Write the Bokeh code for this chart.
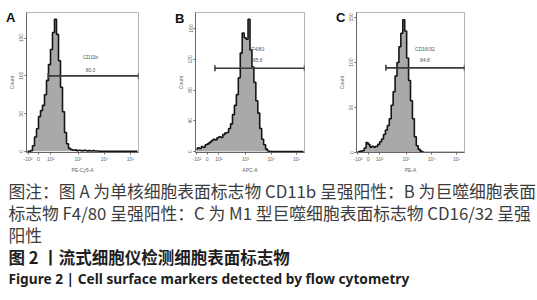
from bokeh.plotting import figure
from bokeh.models import Range1d, FixedTicker, Label, LinearAxis
from bokeh.layouts import column, row
from bokeh.embed import file_html
from bokeh.resources import INLINE
from bokeh.core.properties import value

# ---------------- data ----------------
bin_centers = list(range(1, 112, 2))  # 56 bins over display scale 0..112

counts_a = [0, 0, 0.02, 0.15, 0.38, 0.6, 0.92, 1.08, 1.22, 1.5, 1.88, 2.3, 2.7, 3.15,
            3.5, 3.1, 2.4, 1.7, 1.05, 0.5, 0.2, 0.08, 0.05, 0.03, 0.04, 0.02, 0.03, 0.02,
            0.02, 0.03, 0.01, 0.02, 0.01, 0.02, 0.01, 0.01,
            0, 0, 0, 0, 0, 0, 0, 0, 0, 0, 0, 0, 0, 0, 0, 0, 0, 0, 0, 0]
counts_b = [0.08, 0.12, 0.1, 0.16, 0.14, 0.22, 0.25, 0.3, 0.35, 0.4, 0.38, 0.45, 0.48, 0.46,
            0.55, 0.6, 0.62, 0.75, 0.9, 1.2, 1.5, 1.85, 2.4, 3.2, 3.85, 3.7, 3.65, 4.3,
            3.3, 2.75, 2.25, 1.65, 1.25, 0.75, 0.4, 0.22, 0.08, 0.02,
            0, 0, 0, 0, 0, 0, 0, 0, 0, 0, 0, 0, 0, 0, 0, 0, 0, 0]
counts_c = [0.01, 0.02, 0.03, 0.04, 0.1, 0.22, 0.18, 0.12, 0.14, 0.12, 0.14, 0.18, 0.24, 0.3,
            0.4, 0.5, 0.6, 0.75, 1.05, 1.35, 1.7, 2.0, 2.35, 2.65, 2.95, 2.7, 2.1, 1.6,
            1.15, 0.75, 0.35, 0.15, 0.07, 0.03, 0.01,
            0, 0, 0, 0, 0, 0, 0, 0, 0, 0, 0, 0, 0, 0, 0, 0, 0, 0, 0, 0, 0]

x_tick_pos = [1.5, 12, 24, 51.5, 78, 104]
x_tick_labels = ["-10²", "0", "10²", "10³", "10⁴", "10⁵"]

y_ticks_a = [0, 1, 2, 3]
y_labels_a = ["0", "50", "100", "150"]
y_ticks_b = [0, 1, 2, 3, 4]
y_labels_b = ["0", "40", "80", "120", "160"]
y_ticks_c = [0, 1, 2, 3]
y_labels_c = ["0", "50", "100", "150"]

x_labels = ["PE-Cy5-A", "APC-A", "PE-A"]
panel_letters = ["A", "B", "C"]

gate_a = dict(x0=21.7, x1=112, y=2.0, names=["CD11b", "80.3"], tx=64, ty=[2.5, 2.16])
gate_b = dict(x0=20, x1=112, y=2.71, names=["F4/80", "85.6"], tx=64, ty=[3.32, 2.97])
gate_c = dict(x0=30.5, x1=112, y=1.88, names=["CD16/32", "84.8"], tx=71, ty=[2.3, 2.05])

caption_lines = [
    "图注：图 A 为单核细胞表面标志物 CD11b 呈强阳性：B 为巨噬细胞表面",
    "标志物 F4/80 呈强阳性：C 为 M1 型巨噬细胞表面标志物 CD16/32 呈强",
    "阳性",
    "图 2 丨流式细胞仪检测细胞表面标志物",
    "Figure 2  |  Cell surface markers detected by flow cytometry",
]

CJK = "Noto Sans CJK SC"


def panel(counts, y_ticks, y_labels, yr, xlabel, gate, letter, letter_y,
          b_left, b_right, frame_w):
    p = figure(width=b_left + frame_w + b_right, height=175, output_backend="svg",
               toolbar_location=None, x_range=Range1d(0, 112), y_range=Range1d(*yr),
               min_border_left=b_left, min_border_right=b_right,
               min_border_top=12, min_border_bottom=22)
    p.grid.visible = False
    p.outline_line_color = "#b5b5b5"
    p.outline_line_width = 1
    p.background_fill_color = "white"
    p.border_fill_color = "white"

    p.varea_step(x=bin_centers, y1=[0] * len(bin_centers), y2=counts,
                 step_mode="center", fill_color="#a9a9a9")
    p.step(x=bin_centers, y=counts, mode="center", line_color="#151515", line_width=1.6)

    # gate
    p.segment(x0=[gate["x0"]], y0=[gate["y"]], x1=[gate["x1"]], y1=[gate["y"]],
              line_color="#3a3a3a", line_width=1.6)
    p.scatter(x=[gate["x0"], gate["x1"]], y=[gate["y"], gate["y"]], marker="dash",
              angle=1.5708, size=6, line_color="#3a3a3a", line_width=1.5)
    p.text(x=[gate["tx"], gate["tx"]], y=gate["ty"], text=gate["names"],
           text_font=value("Liberation Sans"), text_font_size="5px",
           text_color="#555555", text_align="center", text_baseline="middle")

    for ax in (p.xaxis[0], p.yaxis[0]):
        ax.axis_line_color = "#666666"
        ax.major_tick_line_color = "#666666"
        ax.major_tick_out = 2
        ax.major_tick_in = 0
        ax.minor_tick_line_color = None
        ax.minor_tick_out = 0
        ax.minor_tick_in = 0
        ax.major_label_text_font_size = "5px"
        ax.major_label_text_color = "#666666"
        ax.major_label_standoff = 1
        ax.axis_label_text_font_size = "5px"
        ax.axis_label_text_color = "#666666"
        ax.axis_label_text_font_style = "normal"
        ax.axis_label_standoff = 2

    p.xaxis.ticker = FixedTicker(ticks=x_tick_pos)
    p.xaxis.major_label_overrides = {t: l for t, l in zip(x_tick_pos, x_tick_labels)}
    p.xaxis.axis_label = xlabel
    p.yaxis.ticker = FixedTicker(ticks=y_ticks)
    p.yaxis.major_label_overrides = {t: l for t, l in zip(y_ticks, y_labels)}
    p.yaxis.major_label_orientation = "vertical"
    p.yaxis.axis_label = "Count"

    # panel letter carried by an extra, bare left axis
    letter_axis = LinearAxis(ticker=FixedTicker(ticks=[letter_y]),
                             major_label_overrides={letter_y: letter},
                             axis_line_color=None, major_tick_line_color=None,
                             minor_tick_line_color=None,
                             major_tick_out=0, major_tick_in=0,
                             minor_tick_out=0, minor_tick_in=0,
                             major_label_text_font_size="13px",
                             major_label_text_font_style="bold",
                             major_label_text_font="Liberation Sans",
                             major_label_text_color="#111111",
                             major_label_standoff=-10)
    p.add_layout(letter_axis, "left")
    return p


pa = panel(counts_a, y_ticks_a, y_labels_a, (-0.03, 3.68), x_labels[0], gate_a,
           panel_letters[0], 3.54, 26, 34, 112)
pb = panel(counts_b, y_ticks_b, y_labels_b, (-0.03, 4.52), x_labels[1], gate_b,
           panel_letters[1], 4.34, 19, 29, 113)
pc = panel(counts_c, y_ticks_c, y_labels_c, (0, 3.11), x_labels[2], gate_c,
           panel_letters[2], 2.99, 19, 73, 112)

cap = figure(width=537, height=125, output_backend="svg", toolbar_location=None,
             x_range=Range1d(0, 537), y_range=Range1d(125, 0),
             x_axis_location=None, y_axis_location=None,
             min_border=0)
cap.grid.visible = False
cap.outline_line_color = None

line_y = [15, 37, 59, 81, 103]
styles = [("normal", "#3c3c3c", CJK, "16.8px"),
          ("normal", "#3c3c3c", CJK, "16.8px"),
          ("normal", "#3c3c3c", CJK, "16.8px"),
          ("bold", "#1e1e1e", CJK, "16.5px"),
          ("bold", "#1e1e1e", "Noto Sans", "13.7px")]
for txt, yy, (fs, col, font, size) in zip(caption_lines, line_y, styles):
    cap.add_layout(Label(x=8, y=yy, text=txt, text_font=font,
                         text_font_size=size, text_font_style=fs, text_color=col,
                         text_baseline="middle", text_align="left"))

layout = column(row(pa, pb, pc), cap)
open("out.html", "w").write(file_html(layout, INLINE))
